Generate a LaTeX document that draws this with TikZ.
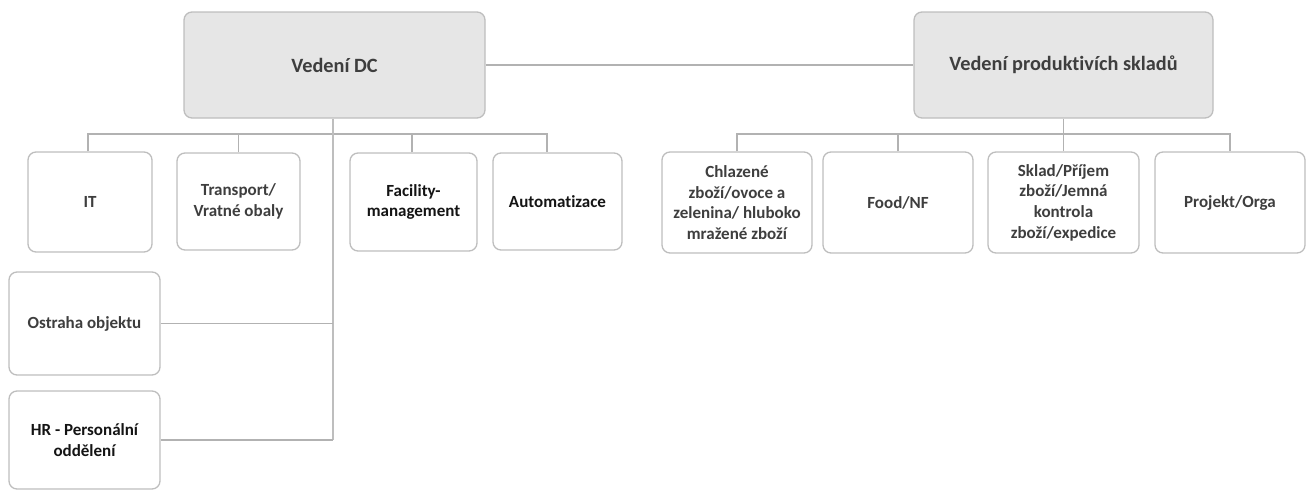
\documentclass[tikz,border=0pt]{standalone}
\usepackage{fontspec}
\setmainfont[Ligatures=NoCommon]{Carlito}
\definecolor{boxline}{RGB}{190,190,190}
\definecolor{conn}{RGB}{178,178,178}
\definecolor{parentfill}{RGB}{230,230,230}
\definecolor{txtgray}{RGB}{62,62,62}
\begin{document}
\begin{tikzpicture}[x=1pt,y=-1pt,
  box/.style={draw=boxline, line width=1.3pt, rounded corners=8pt, fill=white,
    align=center, inner sep=2pt, font=\fontsize{17}{20.7}\selectfont\bfseries, text=txtgray},
  parent/.style={box, fill=parentfill, font=\fontsize{20.3}{24}\selectfont\bfseries, text=txtgray},
  dark/.style={text=black!92},
  link/.style={draw=conn, line width=1.4pt},
  trunk/.style={draw=boxline, line width=2pt}]
\useasboundingbox (0,0) rectangle (1306,490);
% parents
\node[parent, minimum width=301pt, minimum height=106pt] (dc) at (334.5,65) {Vedení DC};
\node[parent, minimum width=299pt, minimum height=106pt] (pw) at (1063.5,65) {Vedení produktivích skladů};
% left children
\node[box, minimum width=124pt, minimum height=100pt] (it) at (90,202) {IT};
\node[box, minimum width=123pt, minimum height=97pt] (tr) at (238.5,201.5) {Transport/\\Vratné obaly};
\node[box, dark, minimum width=127pt, minimum height=98pt] (fm) at (413.5,202) {Facility-\\management};
\node[box, dark, minimum width=129pt, minimum height=97pt] (au) at (557.5,201.5) {Automatizace};
\node[box, minimum width=151pt, minimum height=103pt] (os) at (84.5,323.5) {Ostraha objektu};
\node[box, dark, minimum width=151pt, minimum height=98pt] (hr) at (84.5,440) {HR - Personální\\oddělení};
% right children
\node[box, minimum width=150pt, minimum height=101pt] (ch) at (737,202.5) {Chlazené\\zboží/ovoce a\\zelenina/ hluboko\\mražené zboží};
\node[box, minimum width=150pt, minimum height=101pt] (fo) at (898,202.5) {Food/NF};
\node[box, minimum width=151pt, minimum height=101pt] (sk) at (1063.5,202.5) {Sklad/Příjem\\zboží/Jemná\\kontrola\\zboží/expedice};
\node[box, minimum width=150pt, minimum height=101pt] (pr) at (1230,202.5) {Projekt/Orga};
% bus coordinates
\coordinate (lb) at (0,134);
\coordinate (rb) at (0,134);
% connector between parents
\draw[link] (dc.east) -- (pw.west);
% left bus
\draw[link] ([xshift=-2pt]it.north) -- ([xshift=-2pt]it.north |- lb) -- ([xshift=-10.5pt]au.north |- lb) -- ([xshift=-10.5pt]au.north);
\draw[link] (tr.north) -- (tr.north |- lb);
\draw[link] ([xshift=-1.5pt]fm.north) -- ([xshift=-1.5pt]fm.north |- lb);
% trunk from Vedení DC down to HR
\draw[trunk] ([xshift=-1.5pt]dc.south) -- ([xshift=-1.5pt]dc.south |- hr.east);
\draw[link] (os.east) -- ([xshift=-1.5pt]dc.south |- os.east);
\draw[link] (hr.east) -- ([xshift=-1.5pt]dc.south |- hr.east);
% right bus
\draw[link] (ch.north) -- (ch.north |- rb) -- (pr.north |- rb) -- (pr.north);
\draw[link] (fo.north) -- (fo.north |- rb);
\draw[link] (pw.south) -- (sk.north);
\end{tikzpicture}
\end{document}
